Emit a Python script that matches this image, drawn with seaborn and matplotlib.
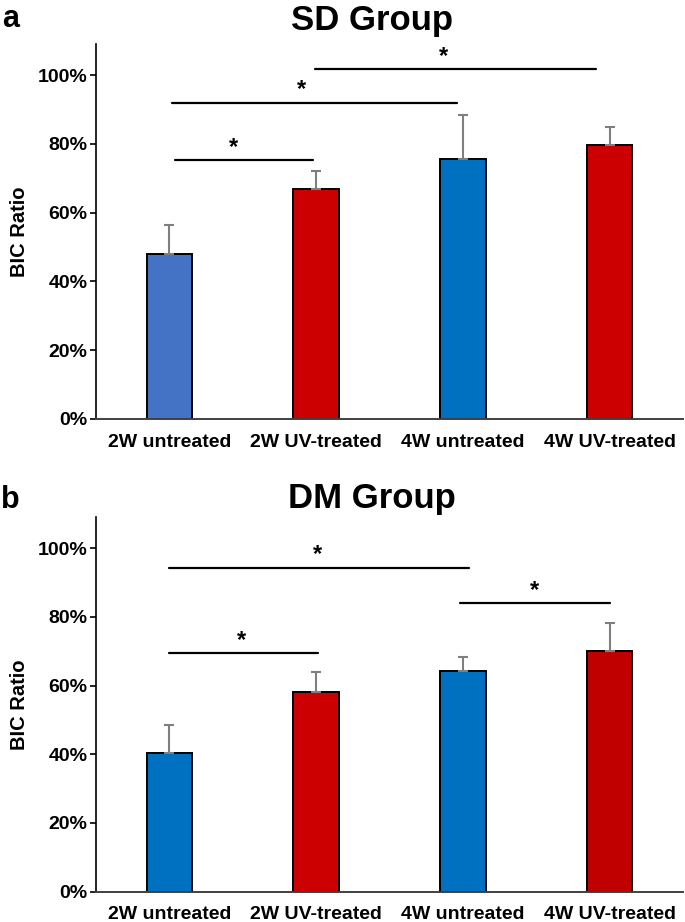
import pandas as pd
import seaborn as sns
import matplotlib.pyplot as plt
from matplotlib.ticker import PercentFormatter

# -------- DATA --------
groups = ['2W untreated', '2W UV-treated', '4W untreated', '4W UV-treated']

sd_mean = [0.480, 0.670, 0.755, 0.797]
sd_err = [0.083, 0.050, 0.130, 0.051]
sd_colors = ['#4472C4', '#CC0000', '#0070C0', '#CC0000']
# (left group, right group, bar height, star x)
sd_sig = [(0.04, 0.98, 0.753, 0.44), (0.02, 1.96, 0.920, 0.90), (0.99, 2.91, 1.017, 1.87)]

dm_mean = [0.404, 0.581, 0.642, 0.702]
dm_err = [0.082, 0.058, 0.042, 0.080]
dm_colors = ['#0070C0', '#CC0000', '#0070C0', '#C00000']
dm_sig = [(0.0, 1.01, 0.695, 0.49), (0.0, 2.04, 0.943, 1.01), (1.98, 3.0, 0.840, 2.49)]

sns.set_style('white')
plt.rcParams['font.family'] = ['Liberation Sans', 'DejaVu Sans']
plt.rcParams['font.weight'] = 'bold'
for key in ['text.color', 'axes.labelcolor', 'xtick.color', 'ytick.color']:
    plt.rcParams[key] = 'black'

fig = plt.figure(figsize=(6.85, 9.22), dpi=100)
ax_a = fig.add_axes([0.140, 0.5456, 0.857, 0.4064])
ax_b = fig.add_axes([0.140, 0.0329, 0.857, 0.4060])


def draw_panel(ax, means, errs, colors, sigs, title, letter, title_pad, letter_y):
    df = pd.DataFrame({'Group': groups, 'Ratio': means})
    sns.barplot(data=df, x='Group', y='Ratio', hue='Group', palette=colors, saturation=1,
                width=0.31, edgecolor='black', linewidth=1.4, legend=False, ax=ax)
    ax.errorbar(range(len(groups)), means, yerr=[[0] * len(errs), errs], fmt='none',
                ecolor='#7F7F7F', elinewidth=1.5, capsize=3.5, capthick=1.5, zorder=1)
    for x0, x1, y, xs in sigs:
        ax.plot([x0, x1], [y, y], color='black', lw=1.6, clip_on=False)
        ax.text(xs, y + 0.004, '*', ha='center', va='bottom', fontsize=17,
                fontweight='bold')
    ax.set_xlim(-0.5, 3.5)
    ax.set_ylim(0, 1.09)
    ax.set_yticks([0, 0.2, 0.4, 0.6, 0.8, 1.0])
    ax.yaxis.set_major_formatter(PercentFormatter(1.0, decimals=0))
    ax.tick_params(axis='y', left=True, length=4, width=1.2, labelsize=14, pad=2)
    ax.tick_params(axis='x', bottom=False, labelsize=14, pad=7)
    for lab in ax.get_xticklabels() + ax.get_yticklabels():
        lab.set_fontweight('bold')
    sns.despine(ax=ax)
    ax.spines['left'].set_color('black')
    ax.spines['left'].set_linewidth(1.2)
    ax.spines['bottom'].set_color('#404040')
    ax.spines['bottom'].set_linewidth(1.4)
    ax.set_xlabel('')
    ax.set_ylabel('BIC Ratio', fontsize=14.5, fontweight='bold', labelpad=6)
    ax.set_title(title, fontsize=25, fontweight='bold', pad=title_pad, x=0.47)
    ax.text(-0.145, letter_y, letter, transform=ax.transAxes, fontsize=22,
            fontweight='bold', va='baseline', ha='center')


draw_panel(ax_a, sd_mean, sd_err, sd_colors, sd_sig, 'SD Group', 'a', 10, 1.045)
draw_panel(ax_b, dm_mean, dm_err, dm_colors, dm_sig, 'DM Group', 'b', 6.5, 1.024)

fig.savefig('out.png', dpi=100)
